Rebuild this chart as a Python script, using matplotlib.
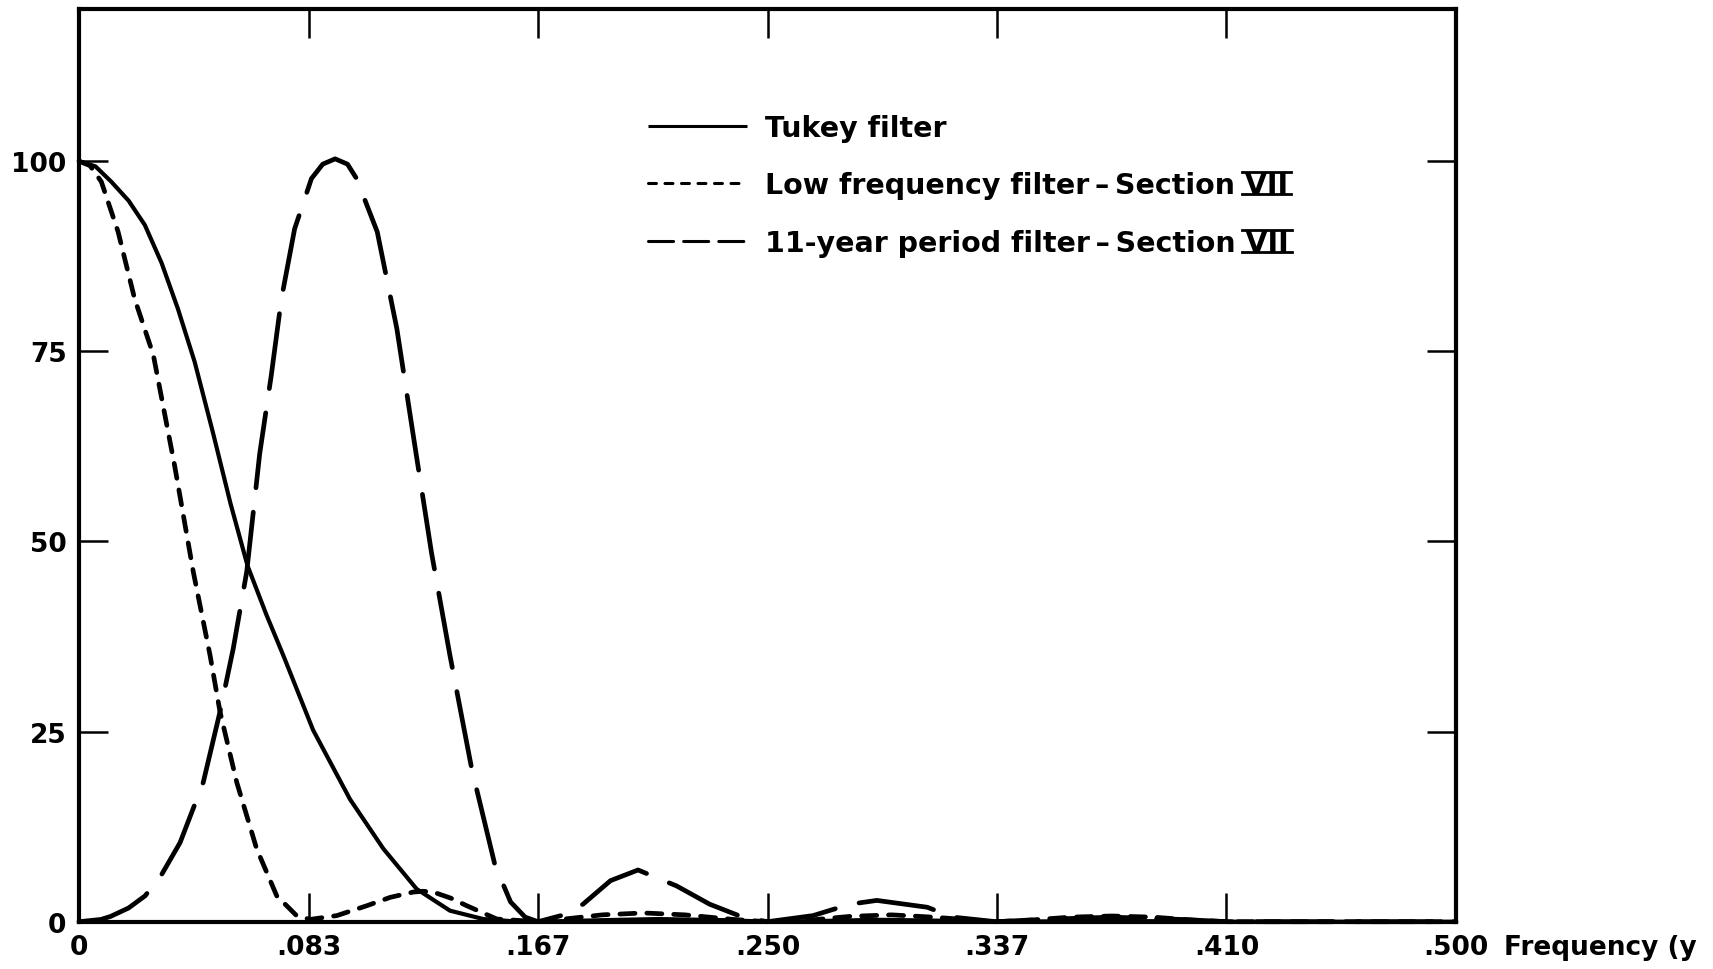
import matplotlib
matplotlib.use("Agg")
import matplotlib.pyplot as plt
from matplotlib.lines import Line2D
from matplotlib.transforms import IdentityTransform, ScaledTranslation

plt.rcParams['font.family'] = ['DejaVu Sans']
plt.rcParams['font.weight'] = 'bold'

# ---------------- data ----------------
tukey_x = [0.0, 0.0060, 0.0117, 0.0180, 0.0239, 0.0300, 0.0359, 0.0420, 0.0485,
           0.0550, 0.0612, 0.0680, 0.0742, 0.0850, 0.0984, 0.1105, 0.1226,
           0.1347, 0.1468, 0.1580, 0.1667,
           0.190, 0.210, 0.235, 0.250, 0.270, 0.290, 0.310, 0.333, 0.375, 0.417, 0.500]
tukey_y = [100.0, 99.3, 97.3, 94.8, 91.6, 86.6, 80.6, 73.6, 64.5,
           55.0, 46.8, 40.4, 35.0, 25.2, 16.1, 9.6, 4.3,
           1.45, 0.35, 0.05, 0.0,
           0.2, 0.35, 0.2, 0.0, 0.1, 0.25, 0.15, 0.0, 0.1, 0.0, 0.0]

lowf_x = [0.0, 0.0040, 0.0081, 0.0142, 0.0202, 0.0270, 0.0347, 0.0415, 0.0476, 0.0512,
          0.0573, 0.0645, 0.0718, 0.0790, 0.0839, 0.0936, 0.1045, 0.1130, 0.1214, 0.1250,
          0.1286, 0.1350, 0.1408, 0.1517, 0.1667, 0.175, 0.190, 0.205, 0.220, 0.2375,
          0.250, 0.265, 0.280, 0.295, 0.310, 0.325, 0.333, 0.345, 0.360, 0.375,
          0.390, 0.405, 0.417, 0.500]
lowf_y = [100.0, 99.4, 97.3, 90.7, 81.9, 74.5, 60.0, 46.0, 35.0, 27.6,
          18.3, 9.6, 3.4, 0.8, 0.3, 0.8, 2.1, 3.2, 3.9, 4.0,
          3.9, 3.1, 2.1, 0.35, 0.0, 0.3, 0.9, 1.15, 0.9, 0.3,
          0.0, 0.2, 0.7, 0.9, 0.6, 0.2, 0.0, 0.2, 0.6, 0.75,
          0.6, 0.2, 0.0, 0.0]

elev_x = [0.0, 0.008, 0.0115, 0.018, 0.024, 0.030, 0.0367, 0.0451, 0.0512,
          0.0560, 0.0609, 0.0656, 0.0698, 0.0735, 0.0783, 0.0844, 0.0885, 0.0930,
          0.0975, 0.1008, 0.1083, 0.1154, 0.1222, 0.1280, 0.1347, 0.1426, 0.1460,
          0.1510, 0.1567, 0.1620, 0.1667, 0.175, 0.183, 0.193, 0.203, 0.217,
          0.229, 0.241, 0.250, 0.2665, 0.280, 0.2897, 0.308, 0.3174, 0.333,
          0.350, 0.375, 0.400, 0.417, 0.500]
elev_y = [0.0, 0.3, 0.7, 1.8, 3.4, 6.2, 10.4, 18.3, 27.6,
          35.9, 46.0, 61.5, 71.8, 81.9, 91.1, 97.7, 99.6, 100.3,
          99.6, 97.7, 90.7, 78.0, 62.0, 48.5, 35.0, 20.1, 15.0,
          7.5, 2.6, 0.6, 0.0, 0.8, 2.3, 5.4, 6.8, 4.7,
          2.3, 0.6, 0.0, 0.8, 2.3, 2.8, 1.9, 0.6, 0.0,
          0.3, 0.6, 0.3, 0.0, 0.0]

x_ticks = [0.0, 1 / 12, 2 / 12, 3 / 12, 4 / 12, 5 / 12, 6 / 12]
x_tick_labels = ["0", ".083", ".167", ".250", ".337", ".410", ".500"]
y_ticks = [0, 25, 50, 75, 100]
y_tick_labels = ["0", "25", "50", "75", "100"]

legend_labels = ["Tukey filter",
                 "Low frequency filter\u2009\u2013\u2009Section VII",
                 "11-year period filter\u2009\u2013\u2009Section VII"]
x_label_text = "Frequency (y"

# ---------------- figure ----------------
fig = plt.figure(figsize=(17.13, 9.70), dpi=100)
ax = fig.add_axes([0.04612, 0.04876, 0.80385, 0.94093])

ax.plot(tukey_x, tukey_y, color="black", lw=3.0, solid_capstyle="round",
        solid_joinstyle="round", clip_on=False, zorder=3)
ax.plot(lowf_x, lowf_y, color="black", lw=3.4, dashes=(3.2, 2.5),
        dash_capstyle="round", dash_joinstyle="round", clip_on=False, zorder=3)
ax.plot(elev_x, elev_y, color="black", lw=3.4, dashes=(16, 5.2),
        dash_capstyle="round", dash_joinstyle="round", clip_on=False, zorder=3)

ax.set_xlim(0, 0.5)
ax.set_ylim(0, 120)
ax.set_xticks(x_ticks, x_tick_labels)
ax.set_yticks(y_ticks, y_tick_labels)
ax.tick_params(direction="in", length=21, width=1.8, top=True, right=True,
               labelsize=19, pad=9, colors="black")
for sp in ax.spines.values():
    sp.set_linewidth(3)
    sp.set_color("black")

ax.text(1.035, 0, x_label_text, fontsize=19, ha="left", va="top",
        transform=ax.transAxes + ScaledTranslation(0, -9 / 72, fig.dpi_scale_trans))

handles = [
    Line2D([], [], color="black", lw=2.2, solid_capstyle="butt"),
    Line2D([], [], color="black", lw=2.2, dashes=(2.6, 2.8), dash_capstyle="round"),
    Line2D([], [], color="black", lw=2.2, dashes=(8.2, 3.3), dash_capstyle="round"),
]
leg = ax.legend(handles, legend_labels, loc="upper left",
                bbox_to_anchor=(0.4132, 0.8855), frameon=False, fontsize=20.5,
                handlelength=3.47, handletextpad=0.64, labelspacing=1.05,
                borderpad=0, borderaxespad=0)

# Roman numeral bars above and below "VII"
fig.canvas.draw()
renderer = fig.canvas.get_renderer()
for t in leg.get_texts()[1:]:
    prop = t.get_fontproperties()
    bb = t.get_window_extent(renderer)
    w_v, h_v, d_v = renderer.get_text_width_height_descent("VII", prop, ismath=False)
    w_a, h_a, d_a = renderer.get_text_width_height_descent(t.get_text(), prop, ismath=False)
    size_px = prop.get_size_in_points() * fig.dpi / 72
    base = bb.y0 + d_a
    cap = 0.729 * size_px
    x1 = bb.x1 + 3
    x0 = bb.x1 - w_v - 3
    for yy in (base - 1, base + cap + 1):
        fig.add_artist(Line2D([x0, x1], [yy, yy], color="black", lw=2.0,
                              transform=IdentityTransform()))

fig.savefig("out.png", dpi=100, facecolor="white")
